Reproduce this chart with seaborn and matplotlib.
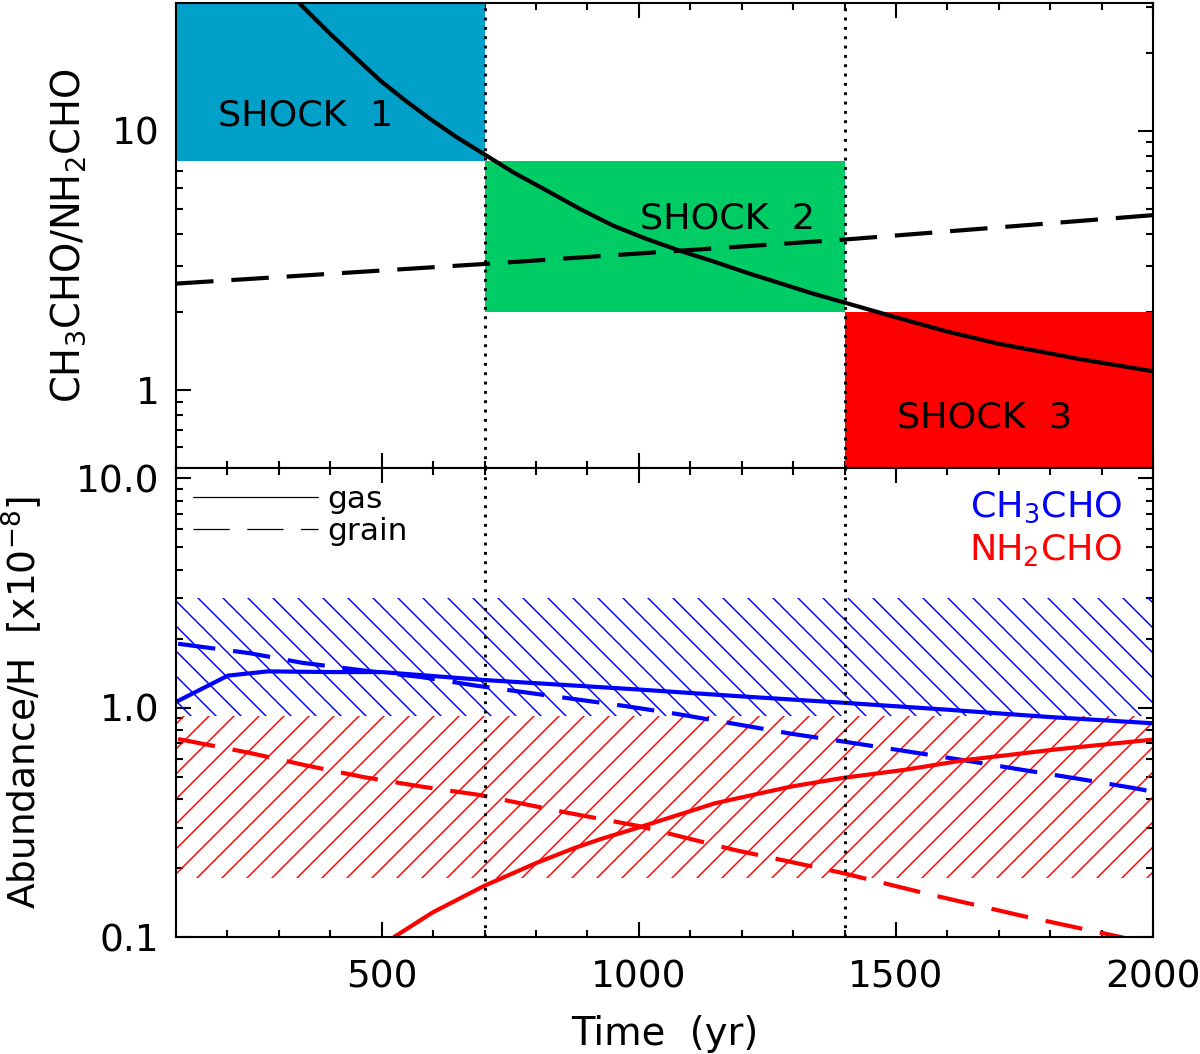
import numpy as np
import pandas as pd
import matplotlib
matplotlib.use("Agg")
import matplotlib.pyplot as plt
import seaborn as sns
from matplotlib.lines import Line2D
from matplotlib.ticker import FixedLocator, FormatStrFormatter, LogLocator, MultipleLocator, NullFormatter

# --- top panel: CH3CHO/NH2CHO ratio ---
ratio_time = [341, 400, 448, 497, 545, 594, 646, 691, 756, 821, 886, 950, 1015, 1080, 1145,
              1210, 1339, 1397, 1502, 1599, 1697, 1858, 2000]
ratio_solid = [30.8, 23.6, 19.2, 15.6, 13.1, 11.1, 9.42, 8.3, 6.90, 5.87, 4.98, 4.30, 3.82,
               3.44, 3.13, 2.83, 2.35, 2.18, 1.90, 1.68, 1.51, 1.314, 1.18]
ratio_dash_time = [100, 700, 1400, 2000]
ratio_dashed = [2.57, 3.06, 3.80, 4.72]

shock_names = ["SHOCK  1", "SHOCK  2", "SHOCK  3"]
shock_start = [100, 700, 1400]
shock_end = [700, 1400, 2000]
shock_low = [7.6, 2.0, 0.5]
shock_high = [31, 7.6, 2.0]
shock_colors = ["#00A0C8", "#00CC66", "#FF0000"]
shock_label_x = [182, 1002, 1502]
shock_label_y = [11.4, 4.57, 0.78]

# --- bottom panel: abundances (x 1e-8) ---
ch3_gas_time = [100, 201, 279, 400, 500, 700, 1000, 1200, 1400, 1600, 1800, 2000]
ch3_gas = [1.06, 1.38, 1.44, 1.43, 1.43, 1.32, 1.20, 1.12, 1.05, 0.98, 0.91, 0.855]
ch3_grain_time = [104, 242, 345, 457, 577, 681, 969, 1073, 1193, 1296, 1401, 1512, 1632, 1743, 1854, 1963, 2000]
ch3_grain = [1.9, 1.73, 1.57, 1.46, 1.36, 1.25, 1.02, 0.94, 0.845, 0.77, 0.71, 0.65, 0.59, 0.537, 0.49, 0.446, 0.43]
nh2_gas_time = [524, 599, 699, 800, 874, 925, 999, 1148, 1296, 1397, 1520, 1632, 1817, 2000]
nh2_gas = [0.1, 0.128, 0.167, 0.21, 0.244, 0.267, 0.30, 0.383, 0.453, 0.494, 0.537, 0.59, 0.66, 0.726]
nh2_grain_time = [104, 242, 353, 465, 577, 688, 859, 999, 1185, 1397, 1557, 1743, 1937, 2000]
nh2_grain = [0.73, 0.636, 0.56, 0.498, 0.453, 0.417, 0.349, 0.305, 0.24, 0.19, 0.155, 0.124, 0.1, 0.092]

# observed ranges (hatched)
ch3_obs = [0.92, 3.0]
nh2_obs = [0.18, 0.92]

shock_bounds = [700, 1400]

rows = []
for t, v in zip(ch3_gas_time, ch3_gas):
    rows.append(("CH3CHO", "gas", t, v))
for t, v in zip(ch3_grain_time, ch3_grain):
    rows.append(("CH3CHO", "grain", t, v))
for t, v in zip(nh2_gas_time, nh2_gas):
    rows.append(("NH2CHO", "gas", t, v))
for t, v in zip(nh2_grain_time, nh2_grain):
    rows.append(("NH2CHO", "grain", t, v))
abund = pd.DataFrame(rows, columns=["species", "phase", "time", "abundance"])

sns.set_theme(style="ticks", rc={
    "xtick.direction": "in", "ytick.direction": "in",
    "xtick.top": True, "ytick.right": True,
    "axes.linewidth": 1.0,
    "axes.edgecolor": "black", "axes.labelcolor": "black", "text.color": "black",
    "xtick.color": "black", "ytick.color": "black",
    "xtick.major.size": 7, "ytick.major.size": 7,
    "xtick.minor.size": 3.5, "ytick.minor.size": 3.5,
    "xtick.major.width": 1.0, "ytick.major.width": 1.0,
    "xtick.minor.width": 1.0, "ytick.minor.width": 1.0,
    "hatch.linewidth": 0.7,
})
plt.rcParams["font.family"] = ["DejaVu Sans"]
plt.rcParams["mathtext.default"] = "regular"

fs = 17.5
tfs = 18
lfs = 18.5
fig = plt.figure(figsize=(8, 1054 / 150), dpi=150)
ax1 = fig.add_axes([0.1467, 0.556, 0.8142, 0.441])
ax2 = fig.add_axes([0.1467, 0.111, 0.8142, 0.445], sharex=ax1)

# top panel
for s, e, lo, hi, c in zip(shock_start, shock_end, shock_low, shock_high, shock_colors):
    ax1.fill_between([s, e], [lo, lo], [hi, hi], color=c, lw=0, zorder=1)
for name, x, y in zip(shock_names, shock_label_x, shock_label_y):
    ax1.text(x, y, name, fontsize=fs, ha="left", va="center", color="black", zorder=3)
sns.lineplot(x=ratio_time, y=ratio_solid, ax=ax1, color="black", lw=2, zorder=4)
sns.lineplot(x=ratio_dash_time, y=ratio_dashed, ax=ax1, color="black", lw=2,
             linestyle=(0, (9, 4.3)), zorder=4)

# bottom panel
xfull = [100, 2000]
ax2.fill_between(xfull, [ch3_obs[0]] * 2, [ch3_obs[1]] * 2, facecolor="none",
                 edgecolor="blue", hatch="\\\\", lw=0, zorder=1)
ax2.fill_between(xfull, [nh2_obs[0]] * 2, [nh2_obs[1]] * 2, facecolor="none",
                 edgecolor="red", hatch="//", lw=0, zorder=1)
sns.lineplot(data=abund, x="time", y="abundance", hue="species", style="phase",
             palette={"CH3CHO": "blue", "NH2CHO": "red"},
             dashes={"gas": "", "grain": (9, 4.3)}, lw=2, ax=ax2, legend=False,
             estimator=None, zorder=4)

for ax in (ax1, ax2):
    for xb in shock_bounds:
        ax.axvline(xb, color="black", ls=(0, (1, 2.2)), lw=1.4, zorder=5)
    ax.set_yscale("log")
    ax.set_xlim(100, 2000)
    ax.xaxis.set_major_locator(MultipleLocator(500))
    ax.xaxis.set_minor_locator(MultipleLocator(100))
    ax.yaxis.set_minor_locator(LogLocator(base=10, subs=np.arange(2, 10)))
    ax.yaxis.set_minor_formatter(NullFormatter())
    ax.tick_params(which="both", labelsize=tfs, pad=8)
    ax.tick_params(axis="x", which="both", pad=11)
    for sp in ax.spines.values():
        sp.set_zorder(6)

ax1.set_ylim(0.5, 31)
ax1.yaxis.set_major_locator(FixedLocator([1, 10]))
ax1.yaxis.set_major_formatter(FormatStrFormatter("%g"))
ax1.tick_params(axis="x", labelbottom=False)
ax1.set_ylabel("CH$_3$CHO/NH$_2$CHO", fontsize=lfs)
ax1.yaxis.set_label_coords(-0.090, 0.5)
ax1.set_xlabel("")

ax2.set_ylim(0.1, 11.1)
ax2.yaxis.set_major_locator(FixedLocator([0.1, 1, 10]))
ax2.yaxis.set_major_formatter(FormatStrFormatter("%.1f"))
ax2.set_ylabel("Abundance/H  [x10$^{-8}$]", fontsize=18)
ax2.yaxis.set_label_coords(-0.135, 0.5)
ax2.set_xlabel("Time  (yr)", fontsize=lfs, labelpad=9)

ax2.text(0.968, 0.915, "CH$_3$CHO", color="blue", fontsize=fs, ha="right", va="center",
         transform=ax2.transAxes)
ax2.text(0.968, 0.825, "NH$_2$CHO", color="red", fontsize=fs, ha="right", va="center",
         transform=ax2.transAxes)

handles = [Line2D([], [], color="black", lw=0.6),
           Line2D([], [], color="black", lw=0.6, dashes=(29, 14))]
ax2.legend(handles, ["gas", "grain"], loc="upper left", frameon=False, fontsize=15,
           handlelength=4, handletextpad=0.3, labelspacing=0.1,
           borderaxespad=0.15)

fig.savefig("out.png", dpi=150)
